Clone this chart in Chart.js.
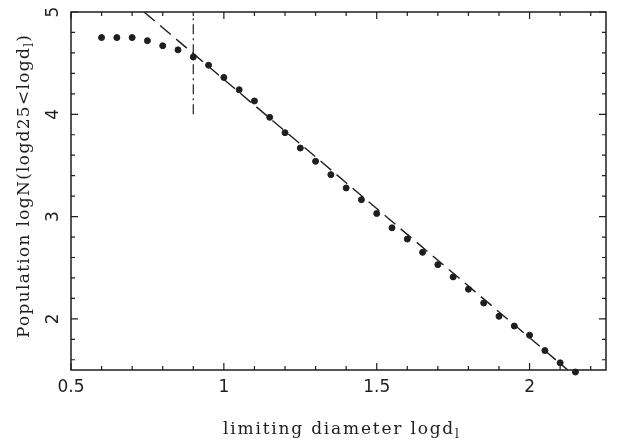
<!DOCTYPE html>
<html lang="en">
<head>
    <meta charset="UTF-8">
    <title>Population vs limiting diameter</title>
    <script src="https://cdn.jsdelivr.net/npm/chart.js"></script>
    <style>
        body { margin: 0; background: #fff; }
        #wrap { width: 623px; height: 445px; }
    </style>
</head>
<body>
    <div id="wrap"><canvas id="popChart"></canvas></div>

    <script>
        // points
        const logD = [0.60, 0.65, 0.70, 0.75, 0.80, 0.85, 0.90, 0.95, 1.00, 1.05, 1.10, 1.15, 1.20, 1.25, 1.30, 1.35,
                      1.40, 1.45, 1.50, 1.55, 1.60, 1.65, 1.70, 1.75, 1.80, 1.85, 1.90, 1.95, 2.00, 2.05, 2.10, 2.15];
        const logN = [4.75, 4.75, 4.75, 4.72, 4.67, 4.63, 4.56, 4.48, 4.36, 4.24, 4.13, 3.97, 3.82, 3.67, 3.54, 3.41,
                      3.28, 3.165, 3.03, 2.89, 2.78, 2.65, 2.53, 2.41, 2.29, 2.155, 2.025, 1.93, 1.84, 1.69, 1.57, 1.48];

        // dashed fit line (end points)
        const fitX = [0.739, 2.125];
        const fitY = [5.0, 1.5];

        // dash-dot completeness limit
        const limX = [0.9, 0.9];
        const limY = [4.0, 4.96];

        // axes
        const xMajor = [0.5, 1, 1.5, 2];
        const xLabels = ['0.5', '1', '1.5', '2'];
        const xMinor = [0.6, 0.7, 0.8, 0.9, 1.1, 1.2, 1.3, 1.4, 1.6, 1.7, 1.8, 1.9, 2.1, 2.2];
        const yMajor = [2, 3, 4, 5];
        const yLabels = ['2', '3', '4', '5'];
        const yMinor = [1.6, 1.8, 2.2, 2.4, 2.6, 2.8, 3.2, 3.4, 3.6, 3.8, 4.2, 4.4, 4.6, 4.8];

        const xTitle = [{ t: 'limiting diameter logd' }, { t: 'l', sub: true }];
        const yTitle = [{ t: 'Population logN(logd25<logd' }, { t: 'l', sub: true }, { t: ')' }];

        const ink = '#1e1e1e';

        function toXY(xs, ys) {
            return xs.map((x, i) => ({ x: x, y: ys[i] }));
        }

        // writes text parts with subscripts, letter spaced
        function drawParts(ctx, parts, x, y, spacing) {
            let cx = x;
            parts.forEach(p => {
                ctx.font = p.sub ? '12px "DejaVu Serif"' : '17px "DejaVu Serif"';
                ctx.letterSpacing = spacing + 'px';
                ctx.fillText(p.t, cx, p.sub ? y + 4 : y);
                cx += ctx.measureText(p.t).width;
            });
        }

        const framePlugin = {
            id: 'frame',
            afterDraw(chart) {
                const ctx = chart.ctx;
                const a = chart.chartArea;
                const sx = chart.scales.x, sy = chart.scales.y;
                ctx.save();
                ctx.strokeStyle = ink;
                ctx.lineWidth = 1.5;
                ctx.strokeRect(a.left, a.top, a.right - a.left, a.bottom - a.top);

                ctx.lineWidth = 1.2;
                function tickX(v, len) {
                    const px = sx.getPixelForValue(v);
                    ctx.beginPath();
                    ctx.moveTo(px, a.bottom); ctx.lineTo(px, a.bottom - len);
                    ctx.moveTo(px, a.top); ctx.lineTo(px, a.top + len);
                    ctx.stroke();
                }
                function tickY(v, len) {
                    const py = sy.getPixelForValue(v);
                    ctx.beginPath();
                    ctx.moveTo(a.left, py); ctx.lineTo(a.left + len, py);
                    ctx.moveTo(a.right, py); ctx.lineTo(a.right - len, py);
                    ctx.stroke();
                }
                xMajor.forEach(v => tickX(v, 7));
                xMinor.forEach(v => tickX(v, 4));
                yMajor.forEach(v => tickY(v, 7));
                yMinor.forEach(v => tickY(v, 4));

                // tick labels
                ctx.fillStyle = ink;
                ctx.font = '17px "DejaVu Sans"';
                ctx.textAlign = 'center';
                ctx.textBaseline = 'middle';
                xMajor.forEach((v, i) => {
                    ctx.fillText(xLabels[i], sx.getPixelForValue(v), a.bottom + 18);
                });
                yMajor.forEach((v, i) => {
                    ctx.save();
                    ctx.translate(a.left - 17, sy.getPixelForValue(v));
                    ctx.rotate(-Math.PI / 2);
                    ctx.fillText(yLabels[i], 0, 0);
                    ctx.restore();
                });

                // axis titles
                ctx.textAlign = 'left';
                ctx.textBaseline = 'alphabetic';
                drawParts(ctx, xTitle, 223, 434, 1.8);

                ctx.translate(29, 338);
                ctx.rotate(-Math.PI / 2);
                drawParts(ctx, yTitle, 0, 0, 1.3);
                ctx.restore();
            }
        };

        const ctx = document.getElementById('popChart').getContext('2d');
        const chart = new Chart(ctx, {
            type: 'scatter',
            data: {
                datasets: [{
                    label: 'N(<d)',
                    data: toXY(logD, logN),
                    backgroundColor: ink,
                    borderColor: ink,
                    pointRadius: 3,
                    showLine: false,
                    clip: false
                }, {
                    label: 'fit',
                    data: toXY(fitX, fitY),
                    showLine: true,
                    borderColor: ink,
                    borderWidth: 1.4,
                    borderDash: [14, 7],
                    pointRadius: 0,
                    fill: false
                }, {
                    label: 'limit',
                    data: toXY(limX, limY),
                    showLine: true,
                    borderColor: ink,
                    borderWidth: 1.2,
                    borderDash: [10, 4, 2, 4],
                    pointRadius: 0,
                    fill: false
                }]
            },
            options: {
                responsive: true,
                maintainAspectRatio: false,
                animation: false,
                layout: {
                    padding: { left: 71, right: 17, top: 12, bottom: 75 }
                },
                plugins: {
                    legend: { display: false },
                    tooltip: { enabled: false }
                },
                scales: {
                    x: { type: 'linear', min: 0.5, max: 2.25, display: false },
                    y: { type: 'linear', min: 1.5, max: 5, display: false }
                }
            },
            plugins: [framePlugin]
        });
    </script>
</body>
</html>
